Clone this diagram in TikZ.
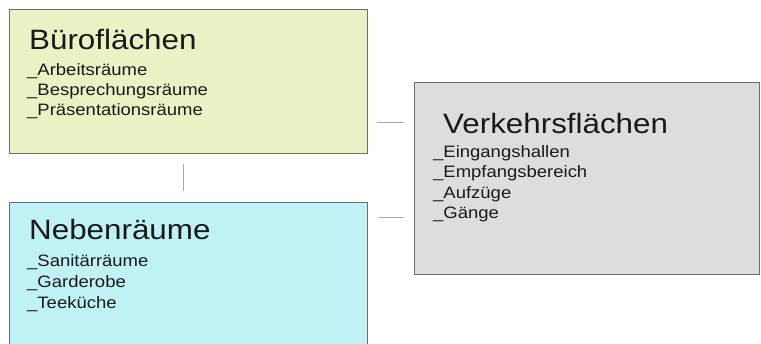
\documentclass[tikz,border=0pt]{standalone}
\usepackage{fontspec}
\setmainfont[FakeStretch=1.12]{Liberation Sans}
\definecolor{bueroFill}{RGB}{234,241,196}
\definecolor{nebenFill}{RGB}{192,241,245}
\definecolor{verkehrFill}{RGB}{221,221,221}
\definecolor{boxLine}{RGB}{110,110,110}
\definecolor{linkLine}{RGB}{170,170,170}
\tikzset{
  area/.style={draw=boxLine, line width=0.9pt, rectangle, inner sep=0pt, anchor=north west},
  heading/.style={anchor=base west, inner sep=0pt, font=\fontsize{28}{32}\selectfont, text=black!90},
  entry/.style={anchor=base west, inner sep=0pt, font=\fontsize{16.5}{20}\selectfont, text=black!90},
  link/.style={draw=linkLine, line width=0.8pt}
}
\begin{document}
\begin{tikzpicture}[x=1pt,y=1pt]
  \useasboundingbox (0,0) rectangle (761,-343);
  \clip (0,0) rectangle (761,-343);
  \fill[white] (0,0) rectangle (761,-343);

  % the three area boxes
  \node[area, fill=bueroFill, minimum width=358pt, minimum height=144pt] (buero) at (9,-9) {};
  \node[area, fill=nebenFill, minimum width=358pt, minimum height=160pt] (neben) at (9,-202) {};
  \node[area, fill=verkehrFill, minimum width=345pt, minimum height=192pt] (verkehr) at (414,-82) {};

  % Büroflächen
  \node[heading] (buero-t) at (29,-49) {Büroflächen};
  \node[entry] (buero-1) at (27,-75) {\_Arbeitsräume};
  \node[entry] (buero-2) at (27,-95) {\_Besprechungsräume};
  \node[entry] (buero-3) at (27,-115) {\_Präsentationsräume};

  % Nebenräume
  \node[heading] (neben-t) at (29,-239) {Nebenräume};
  \node[entry] (neben-1) at (27,-266) {\_Sanitärräume};
  \node[entry] (neben-2) at (27,-287) {\_Garderobe};
  \node[entry] (neben-3) at (27,-308) {\_Teeküche};

  % Verkehrsflächen
  \node[heading] (verkehr-t) at (443,-133) {Verkehrsflächen};
  \node[entry] (verkehr-1) at (433,-157) {\_Eingangshallen};
  \node[entry] (verkehr-2) at (433,-177.5) {\_Empfangsbereich};
  \node[entry] (verkehr-3) at (433,-198) {\_Aufzüge};
  \node[entry] (verkehr-4) at (433,-218) {\_Gänge};

  % connectors, kept clear of the box edges
  \coordinate (upper) at (0,-122);
  \coordinate (lower) at (0,-217);
  \draw[link, shorten <=10pt, shorten >=11pt]
    ([xshift=-5pt]buero.south) -- ([xshift=-5pt]neben.north);
  \draw[link, shorten <=9pt, shorten >=10pt]
    (buero.east |- upper) -- (verkehr.west |- upper);
  \draw[link, shorten <=11pt, shorten >=10pt]
    (neben.east |- lower) -- (verkehr.west |- lower);
\end{tikzpicture}
\end{document}
